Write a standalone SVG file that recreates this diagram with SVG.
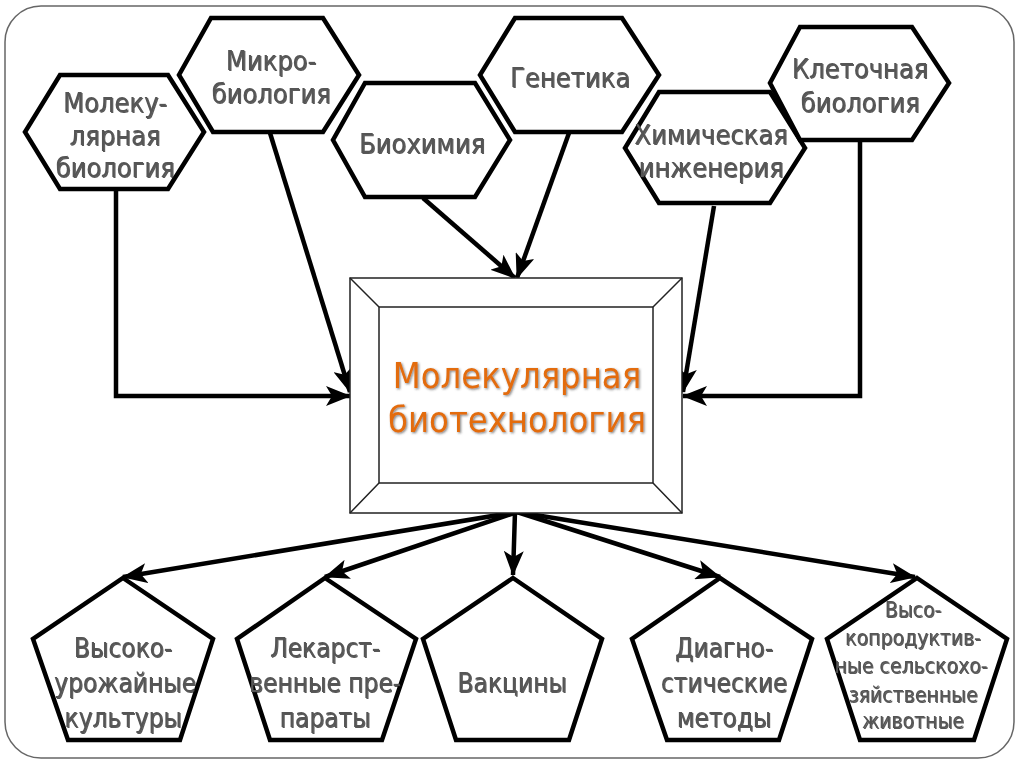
<svg xmlns="http://www.w3.org/2000/svg" width="1024" height="767" viewBox="0 0 1024 767">
<style>
.shape{fill:#fff;stroke:#000;stroke-width:4.5;stroke-linejoin:miter}
.t{font-family:"DejaVu Sans Condensed","DejaVu Sans",Verdana,sans-serif;font-stretch:condensed;fill:#555;text-anchor:middle;filter:url(#sh)}
.h{font-size:27px}
.p{font-size:26px}
.s{font-size:21px}
.c{font-family:"DejaVu Sans Condensed","DejaVu Sans",Verdana,sans-serif;font-stretch:condensed;font-size:36px;fill:#E36C09;text-anchor:middle;filter:url(#sh2)}
.con{fill:none;stroke:#000;stroke-width:4.5;marker-end:url(#ah)}
.box{fill:#fff;stroke:#222;stroke-width:1.5}
</style>
<defs>
<marker id="ah" markerUnits="userSpaceOnUse" markerWidth="26" markerHeight="20" refX="24" refY="10" orient="auto">
<path d="M0,0 L25,10 L0,20 L6,10 z" fill="#000"/>
</marker>
<filter id="sh" x="-10%" y="-10%" width="120%" height="130%">
<feDropShadow dx="1" dy="1" stdDeviation="0.6" flood-color="#111" flood-opacity="0.7"/>
</filter>
<filter id="sh2" x="-10%" y="-10%" width="120%" height="130%">
<feDropShadow dx="1.2" dy="1.2" stdDeviation="0.8" flood-color="#333" flood-opacity="0.6"/>
</filter>
</defs>
<rect x="0" y="0" width="1024" height="767" fill="#fff"/>
<rect x="5" y="6" width="1009" height="752" rx="36" ry="36" fill="#fff" stroke="#666" stroke-width="1.5"/>

<g id="connectors">
<polyline class="con" points="116,189 116,396 350,396"/>
<line class="con" x1="270" y1="133" x2="350" y2="392"/>
<line class="con" x1="423" y1="198" x2="515" y2="278"/>
<line class="con" x1="569" y1="133" x2="517" y2="278"/>
<line class="con" x1="714" y1="206" x2="683" y2="392"/>
<polyline class="con" points="860,140 860,396 683,396"/>
<line class="con" x1="517" y1="512" x2="123" y2="577"/>
<line class="con" x1="517" y1="512" x2="325" y2="577"/>
<line class="con" x1="515" y1="512" x2="513" y2="575"/>
<line class="con" x1="517" y1="512" x2="720" y2="577"/>
<line class="con" x1="517" y1="512" x2="915" y2="577"/>
</g>

<g id="mol-bio">
<polygon class="shape" points="60,75 168,75 204,132 168,189 60,189 25,132"/>
<text class="t h" x="115" y="112">Молеку-</text>
<text class="t h" x="115" y="145">лярная</text>
<text class="t h" x="115" y="177">биология</text>
</g>
<g id="micro">
<polygon class="shape" points="211,18 323,18 359,75 323,132 213,132 179,75"/>
<text class="t h" x="271" y="70">Микро-</text>
<text class="t h" x="271" y="103">биология</text>
</g>
<g id="biochem">
<polygon class="shape" points="365,83 475,83 510,140 475,197 365,197 333,140"/>
<text class="t h" x="422" y="153">Биохимия</text>
</g>
<g id="genetics">
<polygon class="shape" points="515,18 622,18 659,75 622,132 515,132 480,75"/>
<text class="t h" x="570" y="87">Генетика</text>
</g>
<g id="chem-eng">
<polygon class="shape" points="659,92 770,92 805,148 770,203 659,203 625,148"/>
<text class="t h" x="711" y="144">Химическая</text>
<text class="t h" x="711" y="177">инженерия</text>
</g>
<g id="cell-bio">
<polygon class="shape" points="800,27 912,27 949,83 912,140 800,140 770,83"/>
<text class="t h" x="860" y="78">Клеточная</text>
<text class="t h" x="860" y="112">биология</text>
</g>

<g id="center">
<rect class="box" x="350" y="278" width="332" height="235"/>
<rect class="box" x="379" y="307" width="274" height="176"/>
<path d="M350,278 L379,307 M682,278 L653,307 M350,513 L379,483 M682,513 L653,483" stroke="#222" stroke-width="1.5" fill="none"/>
<text class="c" x="517" y="388">Молекулярная</text>
<text class="c" x="517" y="432">биотехнология</text>
</g>

<g id="crops">
<polygon class="shape" points="123,578 213,639 180,740 68,740 33,639"/>
<text class="t p" x="123" y="657">Высоко-</text>
<text class="t p" x="125" y="692">урожайные</text>
<text class="t p" x="123" y="727">культуры</text>
</g>
<g id="drugs">
<polygon class="shape" points="325,578 416,639 382,740 270,740 237,639"/>
<text class="t p" x="325" y="657">Лекарст-</text>
<text class="t p" x="325" y="692">венные пре-</text>
<text class="t p" x="325" y="727">параты</text>
</g>
<g id="vaccines">
<polygon class="shape" points="513,578 602,639 569,740 456,740 423,639"/>
<text class="t p" x="512" y="692">Вакцины</text>
</g>
<g id="diagnostics">
<polygon class="shape" points="720,578 812,639 779,740 667,740 632,639"/>
<text class="t p" x="724" y="657">Диагно-</text>
<text class="t p" x="724" y="692">стические</text>
<text class="t p" x="724" y="727">методы</text>
</g>
<g id="animals">
<polygon class="shape" points="917,578 1007,639 974,740 860,740 827,639"/>
<text class="t s" x="913" y="617">Высо-</text>
<text class="t s" x="913" y="645">копродуктив-</text>
<text class="t s" x="911" y="673">ные сельскохо-</text>
<text class="t s" x="913" y="702">зяйственные</text>
<text class="t s" x="913" y="728">животные</text>
</g>
</svg>
